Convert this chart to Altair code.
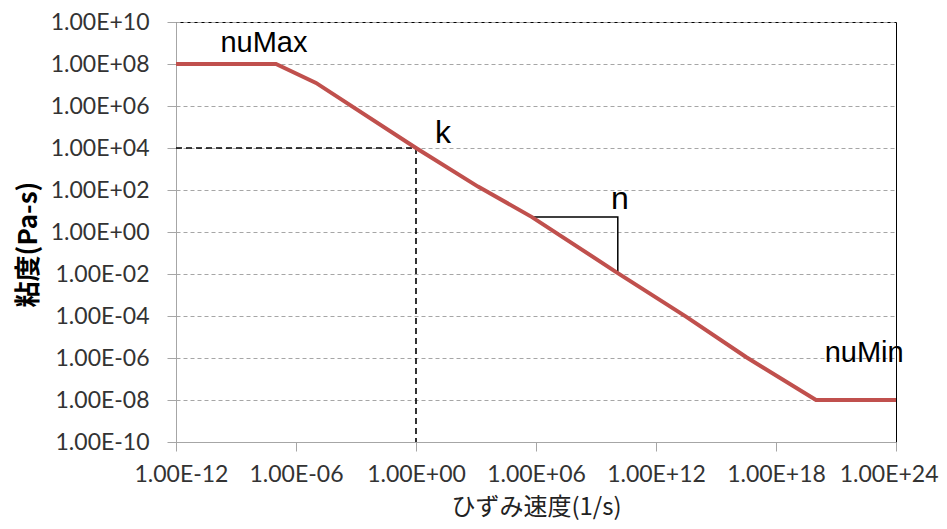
import altair as alt
import pandas as pd

# ---- data ----
strain_rate = [1e-12, 1e-7, 1e-5, 1e0, 1.26e3, 6.31e5, 1.12e10, 3.16e13, 3.16e16, 1e20, 1e24]
viscosity = [1e8, 1e8, 1.26e7, 1e4, 1.45e2, 5.13, 1.17e-2, 9.3e-5, 1.12e-6, 1e-8, 1e-8]

k_guide_x = [1e-12, 1e0, 1e0]
k_guide_y = [1e4, 1e4, 1e-10]

slope_x = [6.31e5, 1.23e10, 1.23e10]
slope_y = [5.13, 5.13, 1.29e-2]

big_labels = ["k", "n"]
big_label_x = [22.4, 1.58e10]
big_label_y = [1.66e4, 12.0]

mid_labels = ["nuMax", "nuMin"]
mid_label_x = [2.5e-8, 2.57e22]
mid_label_y = [3.85e8, 6.67e-7]

x_ticks = [1e-12, 1e-6, 1e0, 1e6, 1e12, 1e18, 1e24]
y_ticks = [1e-10, 1e-8, 1e-6, 1e-4, 1e-2, 1e0, 1e2, 1e4, 1e6, 1e8, 1e10]

# ---- tables ----
main_df = pd.DataFrame({"x": strain_rate, "y": viscosity, "i": range(len(strain_rate))})
k_df = pd.DataFrame({"x": k_guide_x, "y": k_guide_y, "i": range(len(k_guide_x))})
slope_df = pd.DataFrame({"x": slope_x, "y": slope_y, "i": range(len(slope_x))})
big_df = pd.DataFrame({"x": big_label_x, "y": big_label_y, "t": big_labels})
mid_df = pd.DataFrame({"x": mid_label_x, "y": mid_label_y, "t": mid_labels})

LABEL = ("'1.00E' + (datum.value < 1 ? '-' : '+') + "
         "(abs(round(log(datum.value)/LN10)) < 10 ? '0' : '') + "
         "abs(round(log(datum.value)/LN10))")

xs = alt.Scale(type="log", domain=[1e-12, 1e24], nice=False)
ys = alt.Scale(type="log", domain=[1e-10, 1e10], nice=False)

x_axis = alt.Axis(
    values=x_ticks, labelExpr=LABEL, grid=False, tickSize=9, labelPadding=12,
    domainColor="#A6A6A6", tickColor="#A6A6A6", labelFont="Lato", labelFontSize=23,
    labelColor="#333333", labelFlush=True, labelFlushOffset=42, labelOverlap=False,
    title="ひずみ速度(1/s)", titleFont="Noto Sans CJK JP", titleFontSize=24,
    titleFontWeight="normal", titleColor="#222222", titleY=65, titleBaseline="middle",
)
y_axis = alt.Axis(
    values=y_ticks, labelExpr=LABEL, grid=True, gridDash=[4, 3], gridColor="#A6A6A6",
    tickSize=9, labelPadding=18, domainColor="#A6A6A6", tickColor="#A6A6A6",
    labelFont="Lato", labelFontSize=23, labelColor="#333333", labelFlush=False,
    labelOverlap=False,
    title="粘度(Pa-s)", titleFont="Noto Sans CJK JP", titleFontSize=26,
    titleFontWeight="bold", titleColor="#000000", titleAngle=270, titleX=-148,
    titleY=222, titleAlign="center", titleBaseline="middle",
)

def enc(ch):
    return ch.encode(
        x=alt.X("x:Q", scale=xs, axis=x_axis),
        y=alt.Y("y:Q", scale=ys, axis=y_axis),
    )

main_line = enc(alt.Chart(main_df).mark_line(color="#C0504D", strokeWidth=4)).encode(order="i:Q")
k_line = enc(alt.Chart(k_df).mark_line(color="#000000", strokeWidth=1.6, strokeDash=[6, 4])).encode(order="i:Q")
slope_line = enc(alt.Chart(slope_df).mark_line(color="#000000", strokeWidth=1.5)).encode(order="i:Q")
big_text = enc(alt.Chart(big_df).mark_text(font="Liberation Sans", fontSize=32, align="center",
                                            baseline="alphabetic", color="#000000")).encode(text="t:N")
mid_text = enc(alt.Chart(mid_df).mark_text(font="Liberation Sans", fontSize=29, align="center",
                                            baseline="alphabetic", color="#000000")).encode(text="t:N")

chart = (
    alt.layer(k_line, slope_line, main_line, big_text, mid_text)
    .properties(
        width=720, height=420,
        autosize=alt.AutoSizeParams(type="none"),
        padding={"left": 168, "top": 14, "right": 43, "bottom": 79},
        background="#FFFFFF",
    )
    .configure_view(stroke="#000000", strokeWidth=1)
)

chart.save("out.html", embed_options={"renderer": "svg", "actions": False})
